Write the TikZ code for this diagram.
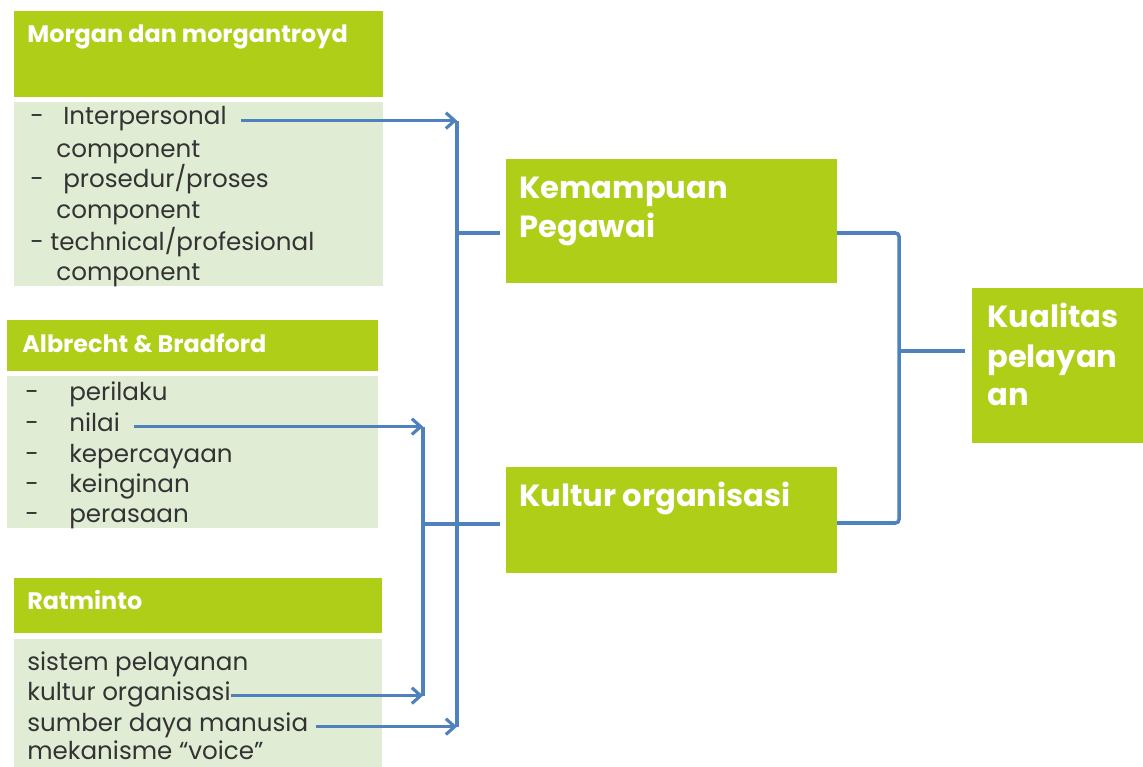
\documentclass[tikz,border=0pt]{standalone}
\usepackage{fontspec}
\setmainfont{Poppins}
\usetikzlibrary{arrows.meta}
\definecolor{lime}{RGB}{175,206,23}
\definecolor{limepale}{RGB}{224,236,212}
\definecolor{linkblue}{RGB}{79,129,189}

\begin{document}
\begin{tikzpicture}[x=0.02cm,y=-0.02cm,
    >={Straight Barb[length=5pt,width=9pt,line width=1.8pt]},
    link/.style={draw=linkblue,line width=2pt},
    hd/.style={fill=lime,anchor=north west,inner sep=0},
    bd/.style={fill=limepale,anchor=north west,inner sep=0},
    htxt/.style={anchor=base west,inner sep=0,text=white,font=\fontsize{13.6}{16}\selectfont\bfseries},
    btxt/.style={anchor=base west,inner sep=0,text=black!80,font=\fontsize{14}{17}\selectfont,text height=0.7em,text depth=0.2em},
    big/.style={anchor=base west,inner sep=0,text=white,font=\fontsize{17.4}{21}\selectfont\bfseries}]
\useasboundingbox (0,0) rectangle (1143,767);
            % \draw[help lines] (0,0) grid[step=50] (1143,767);
            \node[hd,minimum width=7.38cm,minimum height=1.72cm] (morganhd) at (14,11) {};
            \node[bd,minimum width=7.38cm,minimum height=3.68cm] (morganbd) at (14,102) {};
            \node[hd,minimum width=7.42cm,minimum height=1.02cm] (albhd) at (7,320) {};
            \node[bd,minimum width=7.42cm,minimum height=3.04cm] (albbd) at (7,376) {};
            \node[hd,minimum width=7.36cm,minimum height=1.10cm] (ratmhd) at (14,578) {};
            \node[bd,minimum width=7.36cm,minimum height=2.80cm] (ratmbd) at (14,639) {};
            \node[hd,minimum width=6.62cm,minimum height=2.48cm] (kem) at (506,159) {};
            \node[hd,minimum width=6.62cm,minimum height=2.12cm] (kul) at (506,467) {};
            \node[hd,minimum width=3.80cm,minimum height=3.10cm] (kual) at (972,288) {};

            \node[htxt] (morgant) at (27,43) {Morgan dan morgantroyd};
            \node[btxt] (interp) at (30,125) {\makebox[0.66cm][l]{-}Interpersonal};
            \node[btxt] (compa) at (56,157) {component};
            \node[btxt] (prosd) at (30,188) {\makebox[0.66cm][l]{-}prosedur/proses};
            \node[btxt] (compb) at (56,218) {component};
            \node[btxt] (techn) at (30,250) {- technical/profesional};
            \node[btxt] (compc) at (56,280) {component};

            \node[htxt] (albt) at (22,352) {Albrecht \& Bradford};
            \node[btxt] (peri) at (25,400) {\makebox[0.88cm][l]{-}perilaku};
            \node[btxt] (nilai) at (25,431) {\makebox[0.88cm][l]{-}nilai};
            \node[btxt] (perc) at (25,462) {\makebox[0.88cm][l]{-}kepercayaan};
            \node[btxt] (ingin) at (25,492) {\makebox[0.88cm][l]{-}keinginan};
            \node[btxt] (rasa) at (25,522) {\makebox[0.88cm][l]{-}perasaan};

            \node[htxt] (ratmt) at (27,609) {Ratminto};
            \node[btxt] (sist) at (27,670) {sistem pelayanan};
            \node[btxt] (kultr) at (27,700) {kultur organisasi};
            \node[btxt] (sdm) at (27,731) {sumber daya manusia};
            \node[btxt] (voice) at (27,759) {mekanisme “voice”};

            \node[big] (kemt) at (519,198) {Kemampuan};
            \node[big] (pegt) at (519,237) {Pegawai};
            \node[big] (kult) at (519,506) {Kultur organisasi};
            \node[big] (kualt) at (987,327) {Kualitas};
            \node[big] (pelt) at (987,367) {pelayan};
            \node[big] (ant) at (987,405) {an};

            \coordinate (busa) at (457,0);
            \coordinate (busb) at (423,0);
            \coordinate (kemin) at (500,233);
            \coordinate (kulin) at (500,524);
            \coordinate (kemout) at (837,233);
            \coordinate (kulout) at (837,523);
            \coordinate (join) at (899,351);
            \coordinate (kualin) at (965,351);

            \draw[link] (interp.east -| busa) -- (sdm.east -| busa);
            \draw[link] (nilai.east -| busb) -- (kultr.east -| busb);
            \draw[link,->,shorten <=8pt] (interp.east) -- (interp.east -| busa);
            \draw[link,->,shorten <=8pt] (nilai.east) -- (nilai.east -| busb);
            \draw[link,->] (kultr.east) -- (kultr.east -| busb);
            \draw[link,->,shorten <=4pt] (sdm.east) -- (sdm.east -| busa);
            \draw[link] (busa |- kemin) -- (kemin);
            \draw[link] (busb |- kulin) -- (kulin);
            \draw[link,rounded corners=2pt] (kemout) -| (join) |- (kulout);
            \draw[link] (join) -- (kualin);
\end{tikzpicture}
\end{document}
